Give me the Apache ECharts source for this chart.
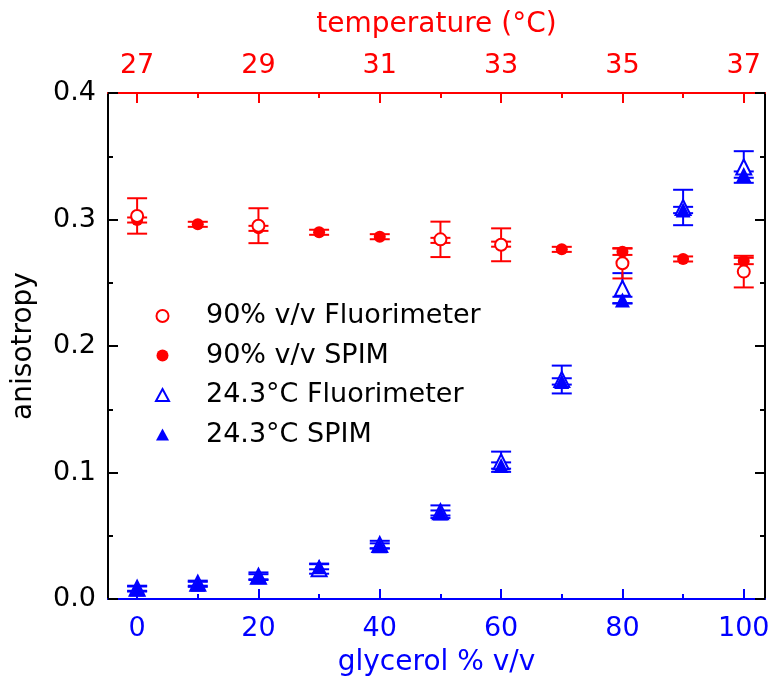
<!DOCTYPE html>
<html>
<head>
<meta charset="utf-8">
<script src="https://cdn.jsdelivr.net/npm/echarts@6/dist/echarts.min.js"></script>
<style>html,body{margin:0;padding:0;background:#fff}#c{width:784px;height:686px}</style>
</head>
<body>
<div id="c"></div>
<script>
// ---- data ----
var glycerol = [0, 10, 20, 30, 40, 50, 60, 70, 80, 90, 100];
var temperature = [27, 28, 29, 30, 31, 32, 33, 34, 35, 36, 37];

var redSpim = [0.2996, 0.2962, 0.2930, 0.2899, 0.2864, 0.2835, 0.2805, 0.2764, 0.2745, 0.2688, 0.2672];
var redSpimErr = [0.002, 0.002, 0.002, 0.002, 0.002, 0.002, 0.002, 0.002, 0.0025, 0.002, 0.0025];

var redFluorTemp = [27, 29, 32, 33, 35, 37];
var redFluor = [0.3028, 0.2951, 0.2843, 0.2800, 0.2654, 0.2588];
var redFluorErr = [0.014, 0.0138, 0.014, 0.013, 0.012, 0.0125];

var blueSpim = [0.0079, 0.0116, 0.0176, 0.0255, 0.0420, 0.0680, 0.1055, 0.1720, 0.2364, 0.3075, 0.3355];
var blueSpimErr = [0.002, 0.002, 0.002, 0.002, 0.002, 0.002, 0.0025, 0.0025, 0.0025, 0.0025, 0.0025];

var blueFluor = [0.0085, 0.0125, 0.0180, 0.0240, 0.0430, 0.0690, 0.1085, 0.1735, 0.2456, 0.3095, 0.3415];
var blueFluorErr = [0.002, 0.002, 0.003, 0.004, 0.003, 0.005, 0.008, 0.011, 0.012, 0.014, 0.0125];

var glycerolLabels = [0, 20, 40, 60, 80, 100];
var glycerolMinor = [10, 30, 50, 70, 90];
var tempLabels = [27, 29, 31, 33, 35, 37];
var tempMinor = [28, 30, 32, 34, 36];

// ---- chart ----
var RED = '#ff0000', BLUE = '#0000ff', BLACK = '#000000';
var FONT = 'DejaVu Sans';
var GMIN = -4.8, GMAX = 103.5;
function g2t(g) { return 27 + g / 10; }

function pairs(xs, ys) { return xs.map(function (x, i) { return [x, ys[i]]; }); }
function errData(xs, ys, es) { return xs.map(function (x, i) { return [x, ys[i] - es[i], ys[i] + es[i]]; }); }

function errSeries(xs, ys, es, color, xAxisIndex) {
  return {
    type: 'custom',
    xAxisIndex: xAxisIndex,
    yAxisIndex: 0,
    silent: true,
    data: errData(xs, ys, es),
    renderItem: function (params, api) {
      var x = api.value(0);
      var lo = api.coord([x, api.value(1)]);
      var hi = api.coord([x, api.value(2)]);
      var w = 10;
      var st = { stroke: color, lineWidth: 2 };
      return {
        type: 'group',
        children: [
          { type: 'line', shape: { x1: lo[0], y1: lo[1], x2: hi[0], y2: hi[1] }, style: st },
          { type: 'line', shape: { x1: lo[0] - w, y1: lo[1], x2: lo[0] + w, y2: lo[1] }, style: st },
          { type: 'line', shape: { x1: hi[0] - w, y1: hi[1], x2: hi[0] + w, y2: hi[1] }, style: st }
        ]
      };
    }
  };
}

function xAx(pos, min, max, color, tickVals, labelVals, len, showLine, name, nameGap, margin) {
  return {
    type: 'value', position: pos, min: min, max: max,
    axisLine: { show: showLine, onZero: false, lineStyle: { color: color, width: 2 } },
    axisTick: { show: true, inside: true, length: len, customValues: tickVals, lineStyle: { color: color, width: 2 } },
    axisLabel: labelVals ? { show: true, customValues: labelVals, color: color, fontSize: 27, fontFamily: FONT, margin: margin } : { show: false },
    splitLine: { show: false },
    name: name || '', nameLocation: 'middle', nameGap: nameGap || 0,
    nameTextStyle: { color: color, fontSize: 28, fontFamily: FONT }
  };
}

function yAx(pos, showLabels) {
  return {
    type: 'value', position: pos, min: 0, max: 0.4, interval: 0.1,
    axisLine: { show: true, onZero: false, lineStyle: { color: BLACK, width: 2 } },
    axisTick: { show: true, inside: true, length: 10, lineStyle: { color: BLACK, width: 2 } },
    minorTick: { show: true, splitNumber: 2, length: 5, lineStyle: { color: BLACK, width: 2 } },
    axisLabel: { show: showLabels, color: BLACK, fontSize: 27, fontFamily: FONT, margin: 12,
      formatter: function (v) { return v.toFixed(1); } },
    splitLine: { show: false }, minorSplitLine: { show: false },
    name: showLabels ? 'anisotropy' : '', nameLocation: 'middle', nameGap: 70,
    nameTextStyle: { color: BLACK, fontSize: 28, fontFamily: FONT }
  };
}

var chart = echarts.init(document.getElementById('c'), null, { renderer: 'canvas' });
chart.setOption({
  animation: false,
  backgroundColor: '#fff',
  grid: { left: 108, right: 19, top: 93, bottom: 87, containLabel: false },
  xAxis: [
    xAx('bottom', GMIN, GMAX, BLUE, glycerolLabels, glycerolLabels, 10, true, 'glycerol % v/v', 50, 16),
    xAx('bottom', GMIN, GMAX, BLUE, glycerolMinor, null, 5, false),
    xAx('top', g2t(GMIN), g2t(GMAX), RED, tempLabels, tempLabels, 10, true, 'temperature (°C)', 54, 14),
    xAx('top', g2t(GMIN), g2t(GMAX), RED, tempMinor, null, 5, false)
  ],
  yAxis: [yAx('left', true), yAx('right', false)],
  legend: {
    orient: 'vertical', left: 150, top: 296, itemWidth: 13, itemHeight: 12, itemGap: 9.5,
    selectedMode: false,
    textStyle: { color: BLACK, fontSize: 27, fontFamily: FONT, lineHeight: 30, padding: [0, 0, 0, 32] },
    data: ['90% v/v Fluorimeter', '90% v/v SPIM', '24.3°C Fluorimeter', '24.3°C SPIM']
  },
  series: [
    errSeries(glycerol, blueFluor, blueFluorErr, BLUE, 0),
    errSeries(glycerol, blueSpim, blueSpimErr, BLUE, 0),
    { name: '24.3°C Fluorimeter', type: 'scatter', xAxisIndex: 0, yAxisIndex: 0, symbol: 'triangle', symbolSize: 15,
      itemStyle: { color: '#fff', borderColor: BLUE, borderWidth: 2, opacity: 1 }, data: pairs(glycerol, blueFluor) },
    { name: '24.3°C SPIM', type: 'scatter', xAxisIndex: 0, yAxisIndex: 0, symbol: 'triangle', symbolSize: 15,
      itemStyle: { color: BLUE, opacity: 1 }, data: pairs(glycerol, blueSpim) },
    errSeries(temperature, redSpim, redSpimErr, RED, 2),
    errSeries(redFluorTemp, redFluor, redFluorErr, RED, 2),
    { name: '90% v/v SPIM', type: 'scatter', xAxisIndex: 2, yAxisIndex: 0, symbol: 'circle', symbolSize: 12,
      itemStyle: { color: RED, opacity: 1 }, data: pairs(temperature, redSpim) },
    { name: '90% v/v Fluorimeter', type: 'scatter', xAxisIndex: 2, yAxisIndex: 0, symbol: 'circle', symbolSize: 12,
      itemStyle: { color: '#fff', borderColor: RED, borderWidth: 2, opacity: 1 }, data: pairs(redFluorTemp, redFluor) }
  ]
});
</script>
</body>
</html>
